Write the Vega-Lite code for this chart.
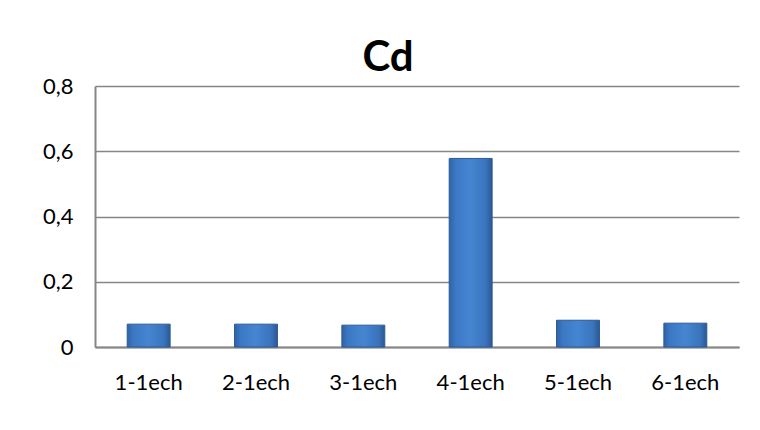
{
  "$schema": "https://vega.github.io/schema/vega-lite/v6.json",
  "autosize": "none",
  "width": 644,
  "height": 261,
  "padding": {"left": 95, "top": 86, "right": 21, "bottom": 83},
  "background": "white",
  "config": {
    "locale": {"number": {"decimal": ",", "thousands": " ", "grouping": [3], "currency": ["", " €"]}},
    "view": {"stroke": null},
    "font": "Lato"
  },
  "title": {
    "text": "Cd",
    "font": "Lato",
    "fontSize": 42,
    "fontWeight": "bold",
    "color": "#000000",
    "anchor": "middle",
    "baseline": "alphabetic",
    "offset": 14,
    "dx": -29,
    "dy": 52
  },
  "data": {
    "values": [
      {"sample": "1-1ech", "Cd": 0.07},
      {"sample": "2-1ech", "Cd": 0.07},
      {"sample": "3-1ech", "Cd": 0.067},
      {"sample": "4-1ech", "Cd": 0.578},
      {"sample": "5-1ech", "Cd": 0.082},
      {"sample": "6-1ech", "Cd": 0.073}
    ]
  },
  "mark": {
    "type": "bar",
    "color": {
      "gradient": "linear",
      "x1": 0, "x2": 1, "y1": 0, "y2": 0,
      "stops": [
        {"offset": 0, "color": "#2f63a6"},
        {"offset": 0.15, "color": "#3c79c5"},
        {"offset": 0.5, "color": "#4585d1"},
        {"offset": 0.85, "color": "#3a74bd"},
        {"offset": 1, "color": "#2b5893"}
      ]
    },
    "stroke": "#2b5a94",
    "strokeWidth": 1
  },
  "encoding": {
    "x": {
      "field": "sample",
      "type": "nominal",
      "sort": null,
      "scale": {"paddingInner": 0.6, "paddingOuter": 0.3},
      "axis": {
        "title": null,
        "labelAngle": 0,
        "labelFont": "Lato",
        "labelFontSize": 22,
        "labelColor": "#000000",
        "labelPadding": 25,
        "ticks": false,
        "domainColor": "#868686",
        "domainWidth": 2,
        "grid": false
      }
    },
    "y": {
      "field": "Cd",
      "type": "quantitative",
      "scale": {"domain": [0, 0.8]},
      "axis": {
        "title": null,
        "values": [0, 0.2, 0.4, 0.6, 0.8],
        "format": ".1~f",
        "labelFont": "Lato",
        "labelFontSize": 22,
        "labelColor": "#000000",
        "labelPadding": 22,
        "ticks": false,
        "domainColor": "#868686",
        "domainWidth": 2,
        "grid": true,
        "gridColor": "#868686",
        "gridWidth": 1.5
      }
    }
  }
}
